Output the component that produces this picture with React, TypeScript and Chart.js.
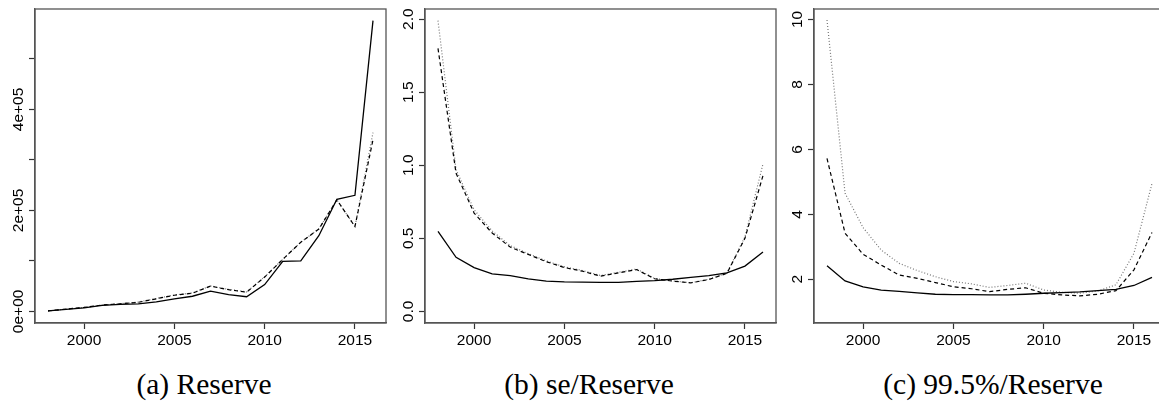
import React, { useEffect, useRef } from "react";
import { Chart, registerables } from "chart.js";

Chart.register(...registerables);

// ---------- data ----------
const YEARS = [1998, 1999, 2000, 2001, 2002, 2003, 2004, 2005, 2006, 2007, 2008, 2009, 2010, 2011, 2012, 2013, 2014, 2015, 2016];
const X_TICKS = [2000, 2005, 2010, 2015];

// (a) Reserve
const RES_SOLID = [1000, 4000, 7000, 12000, 14000, 15000, 19000, 25000, 30000, 40000, 33000, 29000, 53000, 99000, 100000, 150000, 222000, 230000, 576000];
const RES_DASHED = [1000, 4500, 8000, 12500, 15000, 18000, 25000, 32000, 36000, 50000, 43000, 38000, 68000, 103000, 137000, 163000, 221000, 168000, 340000];
const RES_DOTTED = [1000, 4500, 8000, 12500, 15500, 18500, 25500, 32500, 36500, 50500, 43500, 38500, 68500, 103000, 137000, 163500, 221000, 168000, 354000];
const RES_Y_TICKS = [0, 100000, 200000, 300000, 400000, 500000];
const RES_Y_LABELS = ["0e+00", "", "2e+05", "", "4e+05", ""];

// (b) se/Reserve
const SE_SOLID = [0.548, 0.37, 0.30, 0.257, 0.245, 0.223, 0.207, 0.202, 0.200, 0.198, 0.198, 0.205, 0.211, 0.220, 0.232, 0.245, 0.264, 0.31, 0.407];
const SE_DASHED = [1.80, 0.945, 0.673, 0.536, 0.44, 0.39, 0.34, 0.30, 0.275, 0.241, 0.264, 0.286, 0.223, 0.207, 0.195, 0.218, 0.26, 0.50, 0.93];
const SE_DOTTED = [1.99, 0.97, 0.695, 0.55, 0.45, 0.395, 0.345, 0.305, 0.28, 0.245, 0.268, 0.29, 0.225, 0.208, 0.196, 0.22, 0.262, 0.51, 1.01];
const SE_Y_TICKS = [0, 0.5, 1.0, 1.5, 2.0];
const SE_Y_LABELS = ["0.0", "0.5", "1.0", "1.5", "2.0"];

// (c) 99.5%/Reserve
const Q_SOLID = [2.42, 1.95, 1.77, 1.67, 1.63, 1.58, 1.54, 1.53, 1.53, 1.52, 1.52, 1.54, 1.57, 1.59, 1.61, 1.65, 1.69, 1.81, 2.06];
const Q_DASHED = [5.72, 3.42, 2.77, 2.44, 2.13, 2.03, 1.90, 1.77, 1.71, 1.62, 1.69, 1.74, 1.57, 1.52, 1.49, 1.54, 1.65, 2.29, 3.44];
const Q_DOTTED = [9.98, 4.65, 3.59, 2.90, 2.49, 2.27, 2.08, 1.93, 1.86, 1.75, 1.81, 1.88, 1.67, 1.60, 1.57, 1.64, 1.83, 2.80, 4.95];
const Q_Y_TICKS = [2, 4, 6, 8, 10];
const Q_Y_LABELS = ["2", "4", "6", "8", "10"];

const TITLES = ["(a) Reserve", "(b) se/Reserve", "(c) 99.5%/Reserve"];

// ---------- layout / style ----------
const CANVAS_W = 390;
const CANVAS_H = 350;
const PANEL_LEFT = [0, 390, 779];
const TITLE_CENTER = [204, 589, 993];
const TICK_FONT = '"Liberation Sans", Arial, Helvetica, sans-serif';
const TICK_SIZE = 15.5;
const TITLE_FONT = '"Liberation Serif", Tinos, "Times New Roman", "DejaVu Serif", serif';

type Spec = {
  solid: number[];
  dashed: number[];
  dotted: number[];
  yMin: number;
  yMax: number;
  yTicks: number[];
  yLabels: string[];
};

const SPECS: Spec[] = [
  { solid: RES_SOLID, dashed: RES_DASHED, dotted: RES_DOTTED, yMin: -23000, yMax: 599000, yTicks: RES_Y_TICKS, yLabels: RES_Y_LABELS },
  { solid: SE_SOLID, dashed: SE_DASHED, dotted: SE_DOTTED, yMin: -0.0796, yMax: 2.0696, yTicks: SE_Y_TICKS, yLabels: SE_Y_LABELS },
  { solid: Q_SOLID, dashed: Q_DASHED, dotted: Q_DOTTED, yMin: 0.655, yMax: 10.32, yTicks: Q_Y_TICKS, yLabels: Q_Y_LABELS },
];

const pts = (vals: number[]) => YEARS.map((y, i) => ({ x: y, y: vals[i] }));

function Panel({ spec, left }: { spec: Spec; left: number }) {
  const ref = useRef<HTMLCanvasElement>(null);
  useEffect(() => {
    const frame = {
      id: "frame",
      afterDraw(chart: any) {
        const { ctx, chartArea: a } = chart;
        ctx.save();
        ctx.strokeStyle = "#555";
        ctx.lineWidth = 1.3;
        ctx.strokeRect(a.left, a.top, a.right - a.left, a.bottom - a.top);
        const ys = chart.scales.y;
        ctx.fillStyle = "#000";
        ctx.font = `${TICK_SIZE}px ${TICK_FONT}`;
        ctx.textAlign = "center";
        ctx.textBaseline = "alphabetic";
        spec.yTicks.forEach((v, i) => {
          const lab = spec.yLabels[i];
          if (!lab) return;
          const py = ys.getPixelForValue(v);
          ctx.save();
          ctx.translate(a.left - 12.5, py);
          ctx.rotate(-Math.PI / 2);
          ctx.fillText(lab, 0, 0);
          ctx.restore();
        });
        ctx.restore();
      },
    };
    const chart = new Chart(ref.current as HTMLCanvasElement, {
      type: "line",
      data: {
        datasets: [
          { data: pts(spec.solid), borderColor: "#000", borderWidth: 1.3, pointRadius: 0, tension: 0, fill: false },
          { data: pts(spec.dashed), borderColor: "#000", borderWidth: 1.2, borderDash: [4, 3], pointRadius: 0, tension: 0, fill: false },
          { data: pts(spec.dotted), borderColor: "#777", borderWidth: 1.2, borderDash: [1, 2], pointRadius: 0, tension: 0, fill: false },
        ],
      },
      options: {
        animation: false,
        responsive: false,
        layout: { padding: { top: 9, right: 4, left: 0, bottom: 0 } },
        plugins: { legend: { display: false }, tooltip: { enabled: false }, title: { display: false } },
        scales: {
          x: {
            type: "linear",
            min: 1997.28,
            max: 2016.72,
            afterBuildTicks: (s: any) => {
              s.ticks = X_TICKS.map((v) => ({ value: v }));
            },
            afterFit: (s: any) => {
              s.height = CANVAS_H - 323;
            },
            ticks: {
              color: "#000",
              font: { family: TICK_FONT, size: TICK_SIZE },
              padding: 2,
              maxRotation: 0,
              minRotation: 0,
              autoSkip: false,
              callback: (v: any) => String(v),
            },
            grid: { drawOnChartArea: false, drawTicks: true, tickLength: 6, tickColor: "#333", tickWidth: 1.2 },
            border: { display: true, color: "#555", width: 1.3 },
          },
          y: {
            type: "linear",
            min: spec.yMin,
            max: spec.yMax,
            afterBuildTicks: (s: any) => {
              s.ticks = spec.yTicks.map((v) => ({ value: v }));
            },
            afterFit: (s: any) => {
              s.width = 35;
            },
            ticks: { display: false },
            grid: { drawOnChartArea: false, drawTicks: true, tickLength: 6, tickColor: "#333", tickWidth: 1.2 },
            border: { display: true, color: "#555", width: 1.3 },
          },
        },
      },
      plugins: [frame],
    } as any);
    return () => chart.destroy();
  }, [spec]);
  return (
    <div style={{ position: "absolute", left, top: 0, width: CANVAS_W, height: CANVAS_H }}>
      <canvas ref={ref} width={CANVAS_W} height={CANVAS_H} style={{ width: CANVAS_W, height: CANVAS_H, display: "block" }} />
    </div>
  );
}

export default function App() {
  return (
    <div style={{ position: "absolute", left: 0, top: 0, width: 1159, height: 402, background: "#fff", overflow: "hidden" }}>
      {SPECS.map((s, i) => (
        <Panel key={i} spec={s} left={PANEL_LEFT[i]} />
      ))}
      {TITLES.map((t, i) => (
        <div
          key={t}
          style={{
            position: "absolute",
            left: TITLE_CENTER[i],
            top: 370.3,
            transform: "translateX(-50%)",
            fontFamily: TITLE_FONT,
            fontSize: 29.5,
            lineHeight: "29.5px",
            whiteSpace: "nowrap",
            color: "#000",
          }}
        >
          {t}
        </div>
      ))}
    </div>
  );
}
